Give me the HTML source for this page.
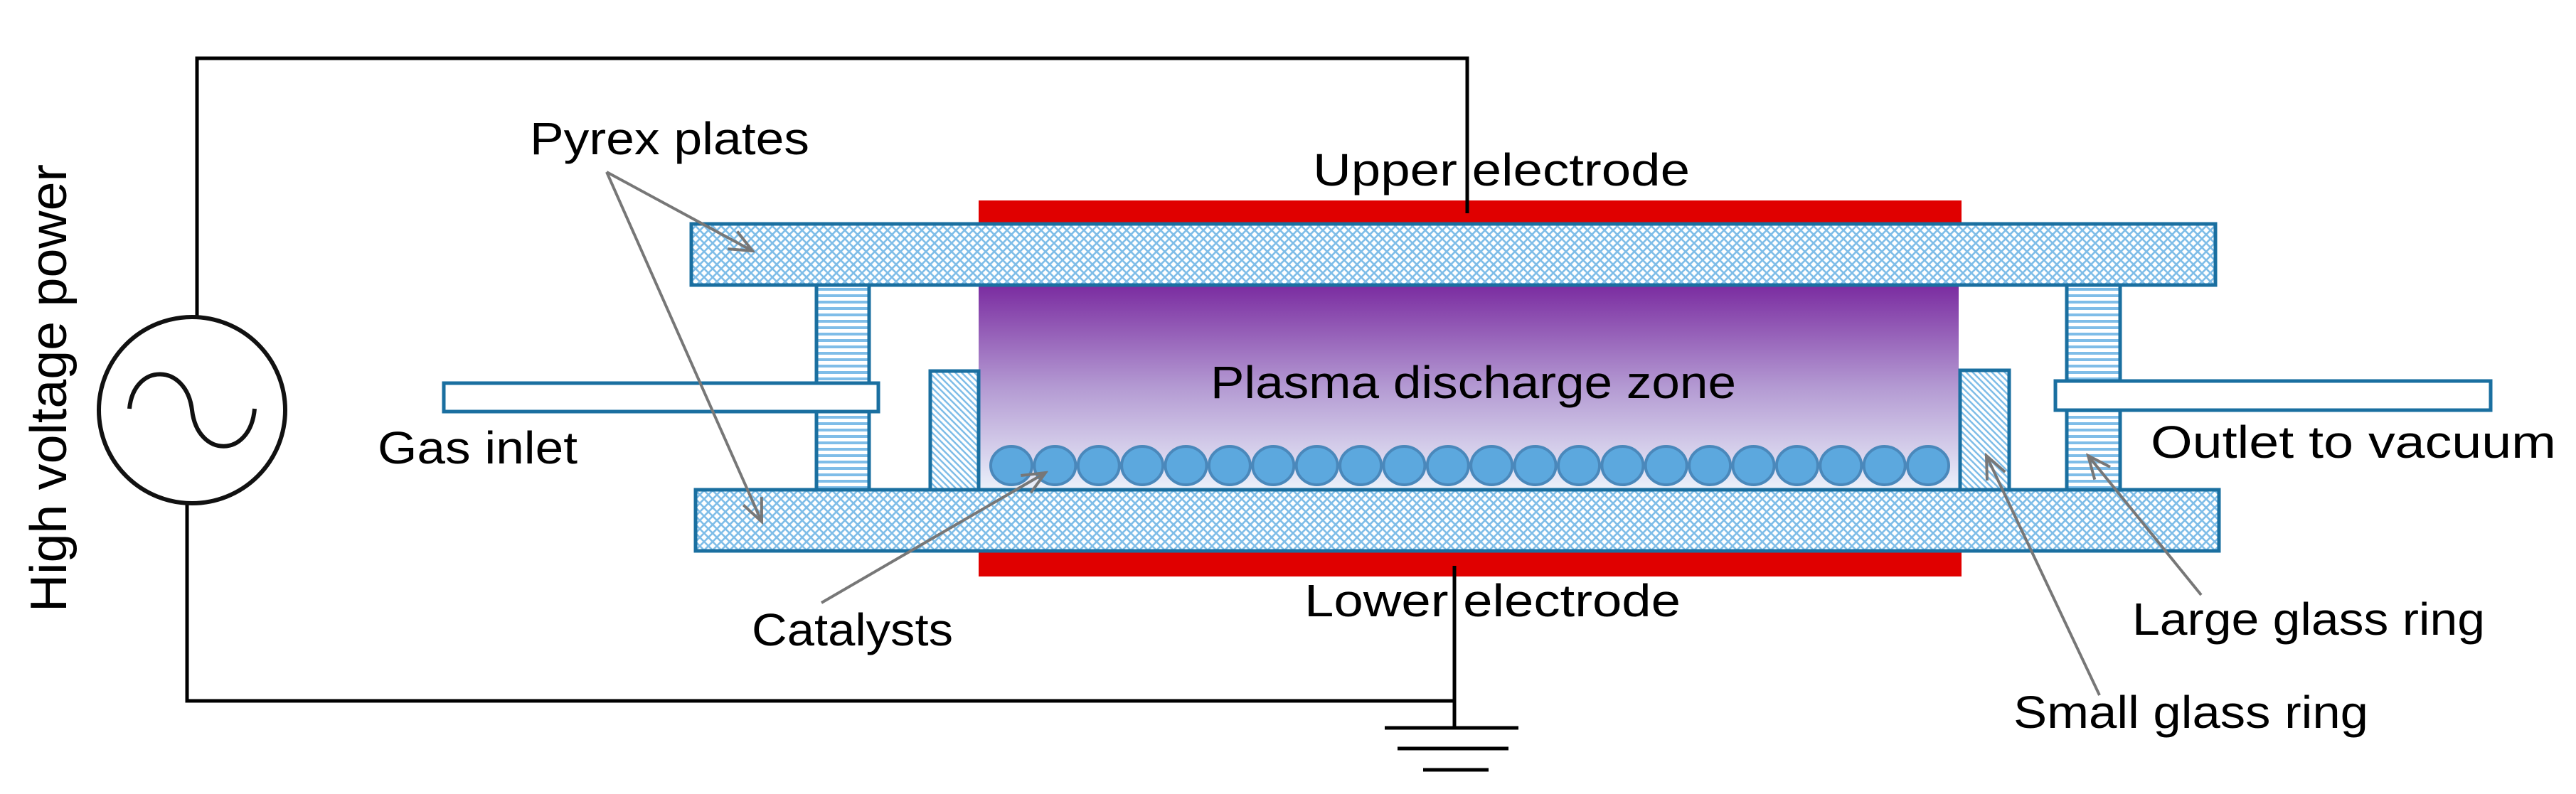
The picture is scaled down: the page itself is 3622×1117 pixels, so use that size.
<!DOCTYPE html>
<html><head><meta charset="utf-8"><style>html,body{margin:0;padding:0;background:#fff}svg{display:block}</style></head>
<body>
<svg xmlns="http://www.w3.org/2000/svg" width="3622" height="1117" viewBox="0 0 3622 1117">
<defs>
<pattern id="cross" width="12" height="12" patternUnits="userSpaceOnUse">
<rect width="12" height="12" fill="#fff"/>
<path d="M0,0 L12,12 M12,0 L0,12" stroke="#7fbde8" stroke-width="2.6"/>
</pattern>
<pattern id="horiz" width="10" height="9" patternUnits="userSpaceOnUse">
<rect width="10" height="9" fill="#fff"/>
<rect y="0" width="10" height="4" fill="#7fbde8"/>
</pattern>
<pattern id="diag" width="9" height="9" patternUnits="userSpaceOnUse">
<rect width="9" height="9" fill="#fff"/>
<path d="M0,0 L9,9 M-9,0 L9,18 M0,-9 L18,9" stroke="#7fbde8" stroke-width="2.5"/>
</pattern>
<linearGradient id="plasma" x1="0" y1="0" x2="0" y2="1">
<stop offset="0" stop-color="#7a2ba0"/>
<stop offset="0.5" stop-color="#b399d2"/>
<stop offset="1" stop-color="#eaf0fa"/>
</linearGradient>
<marker id="ah" markerWidth="12" markerHeight="12" refX="10" refY="6" orient="auto" markerUnits="userSpaceOnUse" viewBox="0 0 12 12">
<path d="M0,0 L10,6 L0,12" fill="none" stroke="#777" stroke-width="1.5"/>
</marker>
<marker id="ah2" markerWidth="40" markerHeight="40" refX="36" refY="20" orient="auto" markerUnits="userSpaceOnUse">
<path d="M4,6 L36,20 L4,34" fill="none" stroke="#777" stroke-width="4"/>
</marker>
</defs>

<!-- wires -->
<g stroke="#000" stroke-width="5" fill="none">
<path d="M277,445 L277,82 L2063,82 L2063,299"/>
<path d="M263,709 L263,986 L2045,986"/>
<path d="M2045,796 L2045,1024"/>
<path d="M1947,1024 L2135,1024 M1965,1053 L2121,1053 M2001,1083 L2093,1083"/>
</g>
<!-- AC source -->
<circle cx="270" cy="577" r="131" fill="#fff" stroke="#111" stroke-width="6"/>
<path d="M182,575 C188,510 262,510 270,577 C278,645 352,645 358,575" fill="none" stroke="#111" stroke-width="6"/>

<!-- electrodes -->
<rect x="1376" y="282" width="1382" height="35" fill="#e00000"/>
<rect x="1376" y="776" width="1382" height="35" fill="#e00000"/>
<line x1="2063" y1="250" x2="2063" y2="300" stroke="#000" stroke-width="5"/>
<line x1="2045" y1="796" x2="2045" y2="840" stroke="#000" stroke-width="5"/>

<!-- plasma -->
<rect x="1376" y="400" width="1378" height="287" fill="url(#plasma)"/>

<!-- plates -->
<rect x="972" y="315" width="2143" height="86" fill="url(#cross)" stroke="#1a6fa0" stroke-width="5"/>
<rect x="978" y="689" width="2142" height="86" fill="url(#cross)" stroke="#1a6fa0" stroke-width="5"/>

<!-- large rings -->
<rect x="1148" y="401" width="74" height="288" fill="url(#horiz)" stroke="#1a6fa0" stroke-width="5"/>
<rect x="2906" y="401" width="75" height="288" fill="url(#horiz)" stroke="#1a6fa0" stroke-width="5"/>
<!-- small rings -->
<rect x="1308" y="522" width="68" height="167" fill="url(#diag)" stroke="#1a6fa0" stroke-width="5"/>
<rect x="2756" y="521" width="69" height="168" fill="url(#diag)" stroke="#1a6fa0" stroke-width="5"/>

<!-- tubes -->
<rect x="624" y="539" width="611" height="40" fill="#fff" stroke="#1a6fa0" stroke-width="5"/>
<rect x="2890" y="536" width="612" height="41" fill="#fff" stroke="#1a6fa0" stroke-width="5"/>

<!-- beads -->
<g fill="#5ca8de" stroke="#4a88bb" stroke-width="4">
<ellipse cx="1422" cy="655" rx="29" ry="27"/><ellipse cx="1483.4" cy="655" rx="29" ry="27"/><ellipse cx="1544.8" cy="655" rx="29" ry="27"/><ellipse cx="1606.1" cy="655" rx="29" ry="27"/><ellipse cx="1667.5" cy="655" rx="29" ry="27"/><ellipse cx="1728.9" cy="655" rx="29" ry="27"/><ellipse cx="1790.3" cy="655" rx="29" ry="27"/><ellipse cx="1851.7" cy="655" rx="29" ry="27"/><ellipse cx="1913.1" cy="655" rx="29" ry="27"/><ellipse cx="1974.4" cy="655" rx="29" ry="27"/><ellipse cx="2035.8" cy="655" rx="29" ry="27"/><ellipse cx="2097.2" cy="655" rx="29" ry="27"/><ellipse cx="2158.6" cy="655" rx="29" ry="27"/><ellipse cx="2220" cy="655" rx="29" ry="27"/><ellipse cx="2281.4" cy="655" rx="29" ry="27"/><ellipse cx="2342.7" cy="655" rx="29" ry="27"/><ellipse cx="2404.1" cy="655" rx="29" ry="27"/><ellipse cx="2465.5" cy="655" rx="29" ry="27"/><ellipse cx="2526.9" cy="655" rx="29" ry="27"/><ellipse cx="2588.3" cy="655" rx="29" ry="27"/><ellipse cx="2649.7" cy="655" rx="29" ry="27"/><ellipse cx="2711" cy="655" rx="29" ry="27"/>
</g>

<!-- pointer lines -->
<g stroke="#777" stroke-width="4" fill="none" marker-end="url(#ah2)">
<line x1="853" y1="242" x2="1058" y2="353"/>
<line x1="853" y1="242" x2="1071" y2="734"/>
<line x1="1155" y1="848" x2="1470" y2="665"/>
<line x1="2952" y1="978" x2="2793" y2="641"/>
<line x1="3095" y1="837" x2="2936" y2="641"/>
</g>

<!-- labels -->
<g font-family="Liberation Sans, Arial, sans-serif" fill="#000" font-size="64">
<text x="745" y="217" textLength="393" lengthAdjust="spacingAndGlyphs">Pyrex plates</text>
<text x="1846" y="261" textLength="530" lengthAdjust="spacingAndGlyphs">Upper electrode</text>
<text x="1702" y="560" textLength="739" lengthAdjust="spacingAndGlyphs">Plasma discharge zone</text>
<text x="531" y="652" textLength="281" lengthAdjust="spacingAndGlyphs">Gas inlet</text>
<text x="3024" y="644" textLength="570" lengthAdjust="spacingAndGlyphs">Outlet to vacuum</text>
<text x="1834" y="867" textLength="529" lengthAdjust="spacingAndGlyphs">Lower electrode</text>
<text x="1057" y="908" textLength="283" lengthAdjust="spacingAndGlyphs">Catalysts</text>
<text x="2998" y="893" textLength="496" lengthAdjust="spacingAndGlyphs">Large glass ring</text>
<text x="2831" y="1024" textLength="499" lengthAdjust="spacingAndGlyphs">Small glass ring</text>
<text transform="translate(93,861) rotate(-90)" font-size="72" textLength="630" lengthAdjust="spacingAndGlyphs">High voltage power</text>
</g>
</svg>
</body></html>
